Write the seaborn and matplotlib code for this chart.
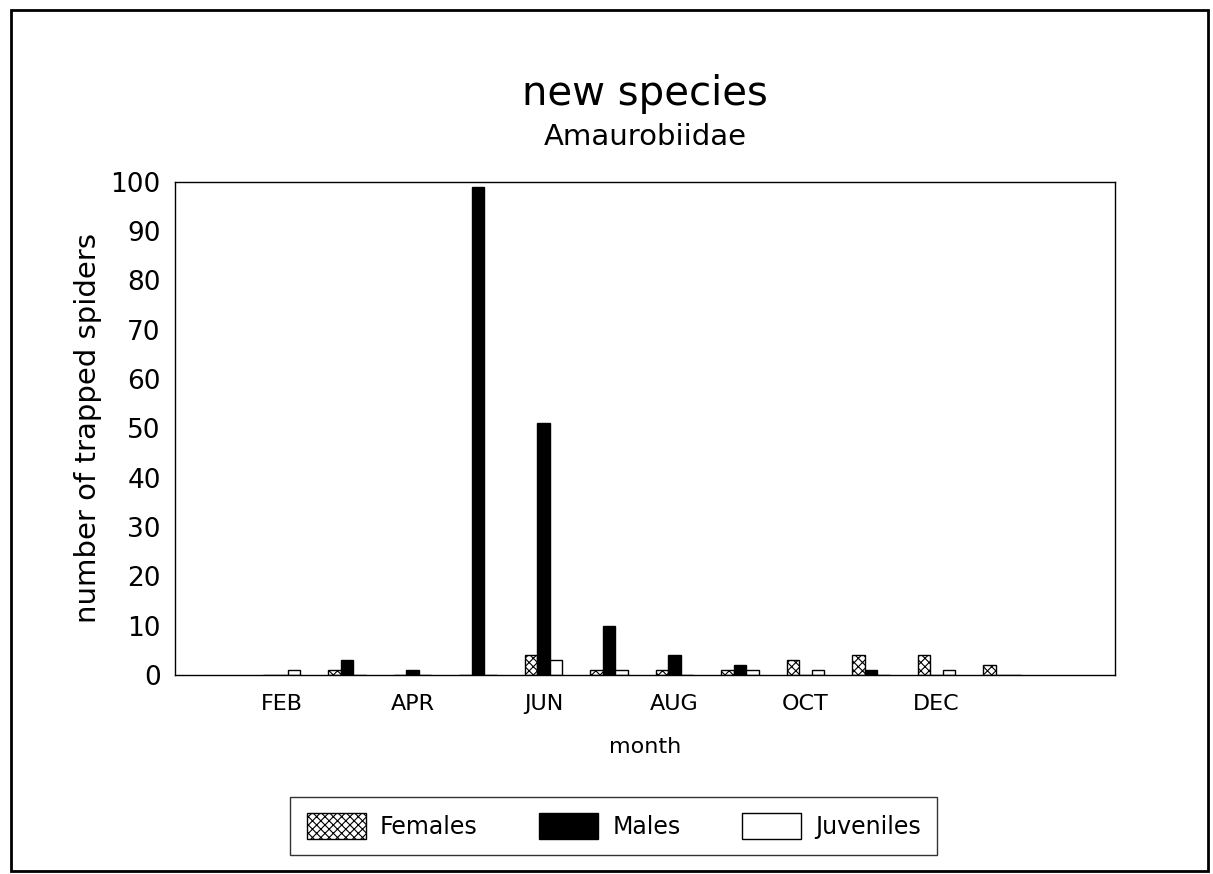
import matplotlib
matplotlib.use("Agg")
import matplotlib.pyplot as plt
from matplotlib.patches import Patch, Rectangle
import numpy as np
import pandas as pd
import seaborn as sns

# Monthly trap catches (Feb through the following Jan)
months = ["FEB", "MAR", "APR", "MAY", "JUN", "JUL",
          "AUG", "SEP", "OCT", "NOV", "DEC", "JAN"]
females = [0, 1, 0, 0, 4, 1, 1, 1, 3, 4, 4, 2]
males = [0, 3, 1, 99, 51, 10, 4, 2, 0, 1, 0, 0]
juveniles = [1, 0, 0, 0, 3, 1, 0, 1, 1, 0, 1, 0]
groups = ["Females", "Males", "Juveniles"]
labelled_months = ["FEB", "APR", "JUN", "AUG", "OCT", "DEC"]

df = pd.DataFrame({
    "month": months * 3,
    "group": [g for g in groups for _ in months],
    "count": females + males + juveniles,
})

sns.set_style("white")
plt.rcParams["font.family"] = ["DejaVu Sans"]
plt.rcParams["text.color"] = "black"
plt.rcParams["axes.labelcolor"] = "black"
plt.rcParams["xtick.color"] = "black"
plt.rcParams["ytick.color"] = "black"
plt.rcParams["hatch.linewidth"] = 0.8

fig = plt.figure(figsize=(12.13, 8.74), dpi=100)
ax = fig.add_axes([0.144, 0.2277, 0.775, 0.5643])

sns.barplot(data=df, x="month", y="count", hue="group", order=months,
            hue_order=groups, palette=["white", "black", "white"],
            width=0.57, edgecolor="black", linewidth=1.0,
            saturation=1, legend=False, ax=ax)

# crosshatch the female bars
for bar in ax.containers[0]:
    bar.set_hatch("xxxx")

ax.set_ylim(0, 100)
ax.set_xlim(-1.63, 12.72)
ax.set_yticks(np.arange(0, 101, 10))
ax.tick_params(axis="y", direction="inout", length=8, width=1, labelsize=19, pad=6)

# month names under every second group, separator ticks between groups
ax.set_xticks([months.index(m) for m in labelled_months])
ax.set_xticklabels(labelled_months, fontsize=16)
ax.tick_params(axis="x", which="major", length=0, pad=14)
ax.set_xticks(np.arange(0.5, 11, 1.0), minor=True)
ax.tick_params(axis="x", which="minor", direction="out", length=6, width=1)

for side in ["left", "right", "top", "bottom"]:
    ax.spines[side].set_visible(True)
    ax.spines[side].set_color("black")
    ax.spines[side].set_linewidth(1.0)

ax.set_xlabel("month", fontsize=16, labelpad=16)
ax.set_ylabel("number of trapped spiders", fontsize=21, labelpad=6)

fig.text(0.532, 0.893, "new species", ha="center", va="center", fontsize=29)
fig.text(0.532, 0.843, "Amaurobiidae", ha="center", va="center", fontsize=21)

handles = [
    Patch(facecolor="white", edgecolor="black", hatch="xxxx", label="Females"),
    Patch(facecolor="black", edgecolor="black", label="Males"),
    Patch(facecolor="white", edgecolor="black", label="Juveniles"),
]
leg = fig.legend(handles=handles, loc="center", bbox_to_anchor=(0.506, 0.055),
                 ncol=3, frameon=True, fancybox=False, edgecolor="black",
                 fontsize=17, handlelength=2.5, handleheight=1.3,
                 columnspacing=2.6, borderpad=0.7, handletextpad=0.6,
                 borderaxespad=0)
leg.get_frame().set_linewidth(1.0)

# outer frame around the whole figure
fig.patches.append(Rectangle((0.009, 0.004), 0.987, 0.984, transform=fig.transFigure,
                             fill=False, edgecolor="black", linewidth=2.0))

fig.savefig("out.png", dpi=100)
